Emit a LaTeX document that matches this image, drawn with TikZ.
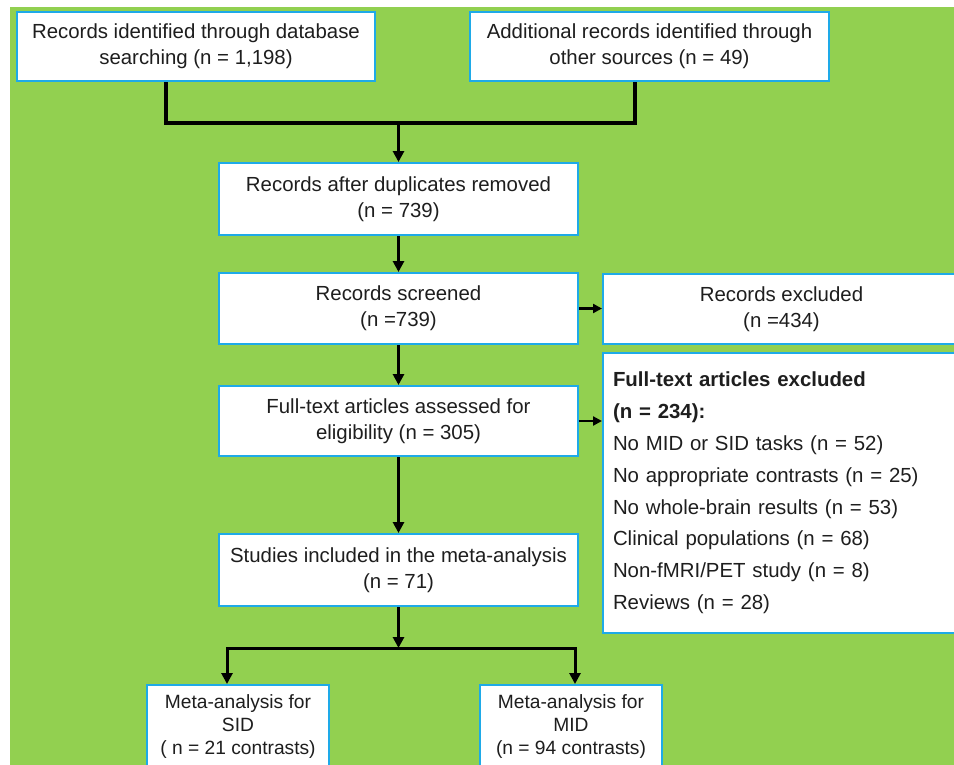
\documentclass[tikz,border=0pt]{standalone}
\usepackage{fontspec}
\setmainfont{Liberation Sans}
\usetikzlibrary{arrows.meta}
\definecolor{bggreen}{RGB}{146,208,80}
\definecolor{boxblue}{RGB}{30,170,232}
\definecolor{txt}{RGB}{30,30,30}
\begin{document}
\begin{tikzpicture}[x=1pt,y=-1pt,
  box/.style={draw=boxblue,line width=2pt,fill=white,align=center,text=txt,
    font=\fontsize{20.4}{26}\selectfont,inner sep=0pt},
  smallbox/.style={box,font=\fontsize{19.2}{23}\selectfont},
  joinline/.style={line width=4pt,black},
  arr/.style={line width=3pt,black,-{Triangle[width=11pt,length=11pt]}},
  harr/.style={line width=2.5pt,black,-{Triangle[width=9pt,length=9pt]}}]
\useasboundingbox (0,0) rectangle (954,764);
\clip (0,0) rectangle (954,764);
\fill[white] (0,0) rectangle (954,764);
\fill[bggreen] (10,7) rectangle (970,780);

\node[box,minimum width=358pt,minimum height=69pt] (b1) at (196,46.5)
  {Records identified through database\\searching (n = 1,198)};
\node[box,minimum width=359pt,minimum height=69pt] (b2) at (649.5,46.5)
  {Additional records identified through\\other sources (n = 49)};
\node[box,minimum width=359pt,minimum height=72pt] (b3) at (398.5,199)
  {Records after duplicates removed\\(n = 739)};
\node[box,minimum width=359pt,minimum height=71pt] (b4) at (398.5,308.5)
  {Records screened\\(n =739)};
\node[box,minimum width=357pt,minimum height=70pt] (ex1) at (781.5,309)
  {Records excluded\\(n =434)};
\node[box,minimum width=359pt,minimum height=70pt] (b5) at (398.5,421)
  {Full-text articles assessed for\\eligibility (n = 305)};
\node[box,minimum width=360pt,minimum height=280pt,align=left,text width=340pt,
  font=\fontsize{20.4}{31.8}\selectfont] (ex2) at (783,493)
  {\textbf{Full-text articles excluded}\\
   \textbf{(n = 234):}\\
   No MID or SID tasks (n = 52)\\
   No appropriate contrasts (n = 25)\\
   No whole-brain results (n = 53)\\
   Clinical populations (n = 68)\\
   Non-fMRI/PET study (n = 8)\\
   Reviews (n = 28)};
\node[box,minimum width=359pt,minimum height=72pt] (b6) at (398.5,570)
  {Studies included in the meta-analysis\\(n = 71)};
\node[smallbox,minimum width=182pt,minimum height=83pt] (b7) at (238,726.5)
  {Meta-analysis for\\SID\\( n = 21 contrasts)};
\node[smallbox,minimum width=182pt,minimum height=83pt] (b8) at (571,726.5)
  {Meta-analysis for\\MID\\(n = 94 contrasts)};

\coordinate (j1) at (166,123);
\coordinate (j2) at (635,123);
\draw[joinline] (b1.south -| j1) -- (j1) -- (j2) -- (b2.south -| j2);
\draw[arr] (b3.north |- j1) -- (b3.north);
\draw[arr] (b3.south) -- (b4.north);
\draw[arr] (b4.south) -- (b5.north);
\draw[arr] (b5.south) -- (b6.north);
\draw[harr] (b4.east) -- (b4.east -| ex1.west);
\draw[harr] (b5.east) -- (b5.east -| ex2.west);

\coordinate (s) at (398.5,648);
\coordinate (sl) at (227,648);
\coordinate (sr) at (575,648);
\draw[arr] (b6.south) -- (s);
\draw[line width=3pt,black,{Triangle[width=11pt,length=11pt]}-{Triangle[width=11pt,length=11pt]}]
  (b7.north -| sl) -- (sl) -- (sr) -- (b8.north -| sr);
\end{tikzpicture}
\end{document}
